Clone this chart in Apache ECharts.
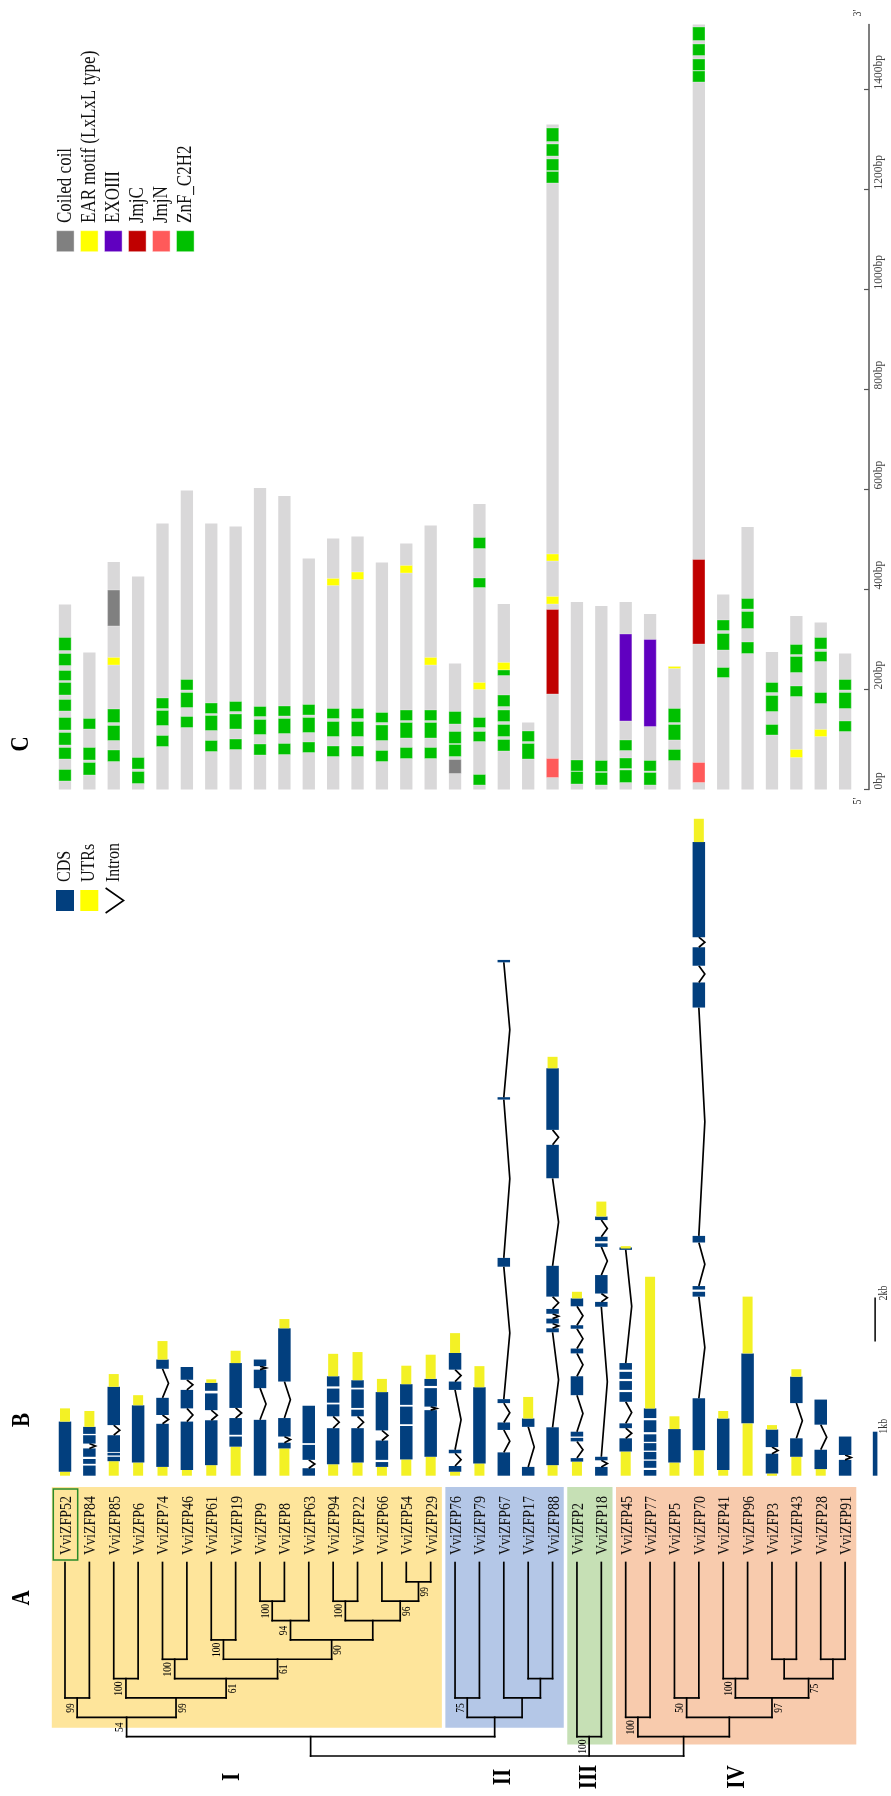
<!DOCTYPE html>
<html>
<head>
<meta charset="utf-8">
<title>VviZFP phylogeny, gene structures and protein domains</title>
<script src="https://cdn.jsdelivr.net/npm/echarts@6/dist/echarts.min.js"></script>
<style>
  html, body { margin: 0; padding: 0; background: #fff; }
  #chart { width: 891px; height: 1796px; }
</style>
</head>
<body>
<div id="chart"></div>
<script>
// ---------------------------------------------------------------------------
// Data
// ---------------------------------------------------------------------------

// Genes in tree order (left to right)
const genes = ['VviZFP52','VviZFP84','VviZFP85','VviZFP6','VviZFP74','VviZFP46','VviZFP61','VviZFP19',
  'VviZFP9','VviZFP8','VviZFP63','VviZFP94','VviZFP22','VviZFP66','VviZFP54','VviZFP29',
  'VviZFP76','VviZFP79','VviZFP67','VviZFP17','VviZFP88',
  'VviZFP2','VviZFP18',
  'VviZFP45','VviZFP77','VviZFP5','VviZFP70','VviZFP41','VviZFP96','VviZFP3','VviZFP43','VviZFP28','VviZFP91'];

// Clades: [label, first gene index, last gene index]
const clades = [['I', 0, 15], ['II', 16, 20], ['III', 21, 22], ['IV', 23, 32]];
const highlightedGene = 'VviZFP52';

// Internal tree nodes: [id, children, depth level, bootstrap, side of the bootstrap label]
const treeNodes = [
  ['n1',  ['VviZFP52', 'VviZFP84'], 7, 99, -1],
  ['n2',  ['VviZFP85', 'VviZFP6'], 6, 100, -1],
  ['n3',  ['VviZFP74', 'VviZFP46'], 5, 100, -1],
  ['n4',  ['VviZFP61', 'VviZFP19'], 4, 100, -1],
  ['n5',  ['VviZFP9', 'VviZFP8'], 2, 100, -1],
  ['n6',  ['n5', 'VviZFP63'], 3, 94, -1],
  ['n7',  ['VviZFP94', 'VviZFP22'], 2, 100, -1],
  ['n8',  ['VviZFP54', 'VviZFP29'], 1, 99, 1],
  ['n9',  ['VviZFP66', 'n8'], 2, 96, 1],
  ['n10', ['n7', 'n9'], 3, null, 0],
  ['n11', ['n6', 'n10'], 4, 90, 1],
  ['n12', ['n4', 'n11'], 5, 61, 1],
  ['n13', ['n3', 'n12'], 6, 61, 1],
  ['n14', ['n2', 'n13'], 7, 99, 1],
  ['n15', ['n1', 'n14'], 8, 54, -1],
  ['m1',  ['VviZFP76', 'VviZFP79'], 7, 75, -1],
  ['m2',  ['VviZFP17', 'VviZFP88'], 6, null, 0],
  ['m3',  ['VviZFP67', 'm2'], 7, null, 0],
  ['m4',  ['m1', 'm3'], 8, null, 0],
  ['c12', ['n15', 'm4'], 9, null, 0],
  ['c3',  ['VviZFP2', 'VviZFP18'], 9, 100, -1],
  ['k1',  ['VviZFP45', 'VviZFP77'], 8, 100, -1],
  ['k2',  ['VviZFP5', 'VviZFP70'], 7, 50, -1],
  ['k3',  ['VviZFP41', 'VviZFP96'], 6, 100, -1],
  ['k4',  ['VviZFP3', 'VviZFP43'], 5, null, 0],
  ['k5',  ['VviZFP28', 'VviZFP91'], 5, null, 0],
  ['k6',  ['k4', 'k5'], 6, 75, 1],
  ['k7',  ['k3', 'k6'], 7, 97, 1],
  ['k8',  ['k2', 'k7'], 8, null, 0],
  ['c4',  ['k1', 'k8'], 9, null, 0],
  ['root', ['c12', 'c3', 'c4'], 10, null, 0]
];

// Gene models, 5' -> 3': feature type (U = UTR, C = CDS, I = intron) followed by its length in kb
const geneModels = [
  ['U',0.09,'C',1.14,'U',0.30],
  ['C',0.23,'I',0.04,'C',0.11,'I',0.05,'C',0.19,'I',0.11,'C',0.19,'I',0.03,'C',0.16,'U',0.36],
  ['U',0.33,'C',0.10,'I',0.03,'C',0.06,'I',0.02,'C',0.38,'I',0.23,'C',0.87,'U',0.29],
  ['U',0.30,'C',1.30,'U',0.23],
  ['U',0.20,'C',0.98,'I',0.20,'C',0.39,'I',0.66,'C',0.21,'U',0.42],
  ['U',0.13,'C',1.10,'I',0.30,'C',0.42,'I',0.23,'C',0.29],
  ['U',0.24,'C',1.02,'I',0.23,'C',0.38,'I',0.06,'C',0.18,'U',0.08],
  ['U',0.66,'C',0.23,'I',0.04,'C',0.38,'I',0.23,'C',1.02,'U',0.28],
  ['C',1.27,'I',0.72,'C',0.42,'I',0.08,'C',0.15],
  ['U',0.62,'C',0.13,'I',0.14,'C',0.42,'I',0.83,'C',1.21,'U',0.21],
  ['C',0.17,'I',0.19,'C',0.34,'I',0.04,'C',0.85],
  ['U',0.26,'C',0.82,'I',0.27,'C',0.27,'I',0.04,'C',0.32,'I',0.05,'C',0.23,'U',0.51],
  ['U',0.30,'C',0.78,'I',0.27,'C',0.15,'I',0.04,'C',0.42,'I',0.04,'C',0.17,'U',0.64],
  ['U',0.20,'C',0.11,'I',0.05,'C',0.44,'I',0.23,'C',0.87,'U',0.30],
  ['U',0.37,'C',0.76,'I',0.04,'C',0.40,'I',0.04,'C',0.47,'U',0.42],
  ['U',0.43,'C',1.06,'I',0.08,'C',0.42,'I',0.05,'C',0.16,'U',0.55],
  ['U',0.09,'C',0.13,'I',0.29,'C',0.08,'I',1.36,'C',0.19,'I',0.27,'C',0.38,'U',0.45],
  ['U',0.28,'C',1.73,'U',0.48],
  ['C',0.53,'I',0.51,'C',0.17,'I',0.44,'C',0.09,'I',3.01,'C',0.20,'I',3.60,'C',0.05,'I',3.07,'C',0.05],
  ['C',0.20,'I',0.91,'C',0.19,'U',0.49],
  ['U',0.24,'C',0.86,'I',2.16,'C',0.09,'I',0.11,'C',0.11,'I',0.11,'C',0.11,'I',0.28,'C',0.70,'I',1.99,'C',0.76,'I',0.34,'C',1.40,'U',0.26],
  ['U',0.32,'C',0.08,'I',0.38,'C',0.08,'I',0.03,'C',0.11,'I',0.83,'C',0.43,'I',0.52,'C',0.11,'I',0.45,'C',0.08,'I',0.43,'C',0.18,'U',0.15],
  ['C',0.20,'I',0.15,'C',0.08,'I',3.41,'C',0.11,'I',0.19,'C',0.42,'I',0.64,'C',0.08,'I',0.05,'C',0.10,'I',0.38,'C',0.08,'U',0.34],
  ['U',0.55,'C',0.30,'I',0.23,'C',0.11,'I',0.49,'C',0.22,'I',0.05,'C',0.20,'I',0.05,'C',0.16,'I',0.05,'C',0.15,'I',2.58,'C',0.04,'U',0.02],
  ['C',0.13,'I',0.05,'C',0.16,'I',0.03,'C',0.17,'I',0.03,'C',0.17,'I',0.03,'C',0.17,'I',0.05,'C',0.27,'I',0.05,'C',0.22,'U',2.99],
  ['U',0.30,'C',0.76,'U',0.29],
  ['U',0.58,'C',1.18,'I',2.31,'C',0.11,'I',0.05,'C',0.08,'I',0.99,'C',0.15,'I',5.19,'C',0.57,'I',0.38,'C',0.42,'I',0.23,'C',2.16,'U',0.53],
  ['U',0.13,'C',1.17,'U',0.17],
  ['U',1.19,'C',1.59,'U',1.29],
  ['U',0.05,'C',0.45,'I',0.15,'C',0.40,'U',0.10],
  ['U',0.43,'C',0.42,'I',0.80,'C',0.60,'U',0.17],
  ['U',0.15,'C',0.44,'I',0.57,'C',0.57],
  ['C',0.36,'I',0.11,'C',0.42]
];

// Scale bars for the gene models: [label, length in kb]
const scaleBars = [['1kb', 1], ['2kb', 2]];

// Protein lengths, in the order of `genes`
const proteinLength = [370, 274, 455, 426, 532, 598, 532, 526, 603, 587, 462, 502, 506, 454, 492, 528,
  252, 571, 371, 134, 1330, 375, 367, 375, 351, 246, 1530, 390, 525, 275, 347, 334, 272];

// Domain positions: [gene, start, end]
const coiledCoil = [['VviZFP85', 327, 399], ['VviZFP76', 32, 60]];
const earMotif = [['VviZFP85', 249, 264], ['VviZFP94', 408, 422], ['VviZFP22', 420, 435], ['VviZFP54', 433, 448],
  ['VviZFP29', 249, 264], ['VviZFP79', 200, 214], ['VviZFP67', 239, 254], ['VviZFP88', 457, 471],
  ['VviZFP88', 371, 386], ['VviZFP5', 242, 246], ['VviZFP43', 64, 80], ['VviZFP28', 106, 120]];
const exoIII = [['VviZFP45', 137, 311], ['VviZFP77', 126, 300]];
const jmjC = [['VviZFP88', 191, 360], ['VviZFP70', 291, 460]];
const jmjN = [['VviZFP88', 24, 62], ['VviZFP70', 14, 54]];
const znfC2H2 = [
  ['VviZFP52',278,304],['VviZFP52',248,272],['VviZFP52',218,238],['VviZFP52',189,214],['VviZFP52',157,180],
  ['VviZFP52',119,144],['VviZFP52',89,114],['VviZFP52',61,84],['VviZFP52',17,40],
  ['VviZFP84',121,142],['VviZFP84',59,84],['VviZFP84',29,54],
  ['VviZFP85',134,161],['VviZFP85',98,128],['VviZFP85',56,79],
  ['VviZFP6',41,64],['VviZFP6',12,36],
  ['VviZFP74',162,183],['VviZFP74',128,158],['VviZFP74',86,108],
  ['VviZFP46',199,220],['VviZFP46',164,194],['VviZFP46',124,146],
  ['VviZFP61',152,173],['VviZFP61',118,148],['VviZFP61',76,98],
  ['VviZFP19',156,176],['VviZFP19',121,151],['VviZFP19',80,101],
  ['VviZFP9',146,166],['VviZFP9',110,140],['VviZFP9',69,91],
  ['VviZFP8',147,167],['VviZFP8',112,142],['VviZFP8',70,92],
  ['VviZFP63',149,170],['VviZFP63',114,144],['VviZFP63',74,95],
  ['VviZFP94',142,162],['VviZFP94',106,136],['VviZFP94',66,87],
  ['VviZFP22',142,162],['VviZFP22',106,136],['VviZFP22',66,87],
  ['VviZFP66',134,154],['VviZFP66',98,129],['VviZFP66',56,78],
  ['VviZFP54',138,159],['VviZFP54',103,134],['VviZFP54',62,84],
  ['VviZFP29',138,159],['VviZFP29',103,134],['VviZFP29',62,84],
  ['VviZFP76',131,156],['VviZFP76',92,116],['VviZFP76',66,90],
  ['VviZFP79',482,504],['VviZFP79',404,423],['VviZFP79',124,144],['VviZFP79',96,116],['VviZFP79',9,30],
  ['VviZFP67',228,239],['VviZFP67',166,189],['VviZFP67',136,159],['VviZFP67',106,130],['VviZFP67',77,100],
  ['VviZFP17',96,117],['VviZFP17',61,92],
  ['VviZFP88',1296,1323],['VviZFP88',1267,1291],['VviZFP88',1238,1261],['VviZFP88',1213,1236],
  ['VviZFP2',37,59],['VviZFP2',11,36],
  ['VviZFP18',36,58],['VviZFP18',9,34],
  ['VviZFP45',78,99],['VviZFP45',42,63],['VviZFP45',14,39],
  ['VviZFP77',37,58],['VviZFP77',9,34],
  ['VviZFP5',134,162],['VviZFP5',99,130],['VviZFP5',58,80],
  ['VviZFP70',1498,1525],['VviZFP70',1468,1491],['VviZFP70',1438,1461],['VviZFP70',1415,1437],
  ['VviZFP41',318,339],['VviZFP41',279,312],['VviZFP41',224,244],
  ['VviZFP96',361,382],['VviZFP96',322,356],['VviZFP96',272,295],
  ['VviZFP3',194,214],['VviZFP3',156,188],['VviZFP3',109,130],
  ['VviZFP43',270,290],['VviZFP43',234,266],['VviZFP43',186,207],
  ['VviZFP28',281,304],['VviZFP28',256,276],['VviZFP28',172,194],
  ['VviZFP91',199,220],['VviZFP91',162,194],['VviZFP91',116,137]
];

// Protein axis
const bpMax = 1530;
const bpStep = 200;

// Legend entries
const structureLegend = ['CDS', 'UTRs', 'Intron'];
const domainLegend = ['Coiled coil', 'EAR motif (LxLxL type)', 'EXOIII', 'JmjC', 'JmjN', 'ZnF_C2H2'];

// ---------------------------------------------------------------------------
// Styling
// ---------------------------------------------------------------------------
const SERIF = '"Liberation Serif", "Times New Roman", serif';
const SY = 1.22;                 // glyph stretch across the reading direction
const UP = Math.PI / 2;          // text reads bottom-to-top
const CDS_COLOR = '#023f7e';
const UTR_COLOR = '#f3f125';
const BACKBONE = '#d9d8d9';
const domainColors = ['#808080', '#ffff00', '#6000c0', '#c00000', '#ff5a5a', '#00c000'];
const cladeColors = ['#fee59b', '#b4c7e7', '#c6e0b5', '#f8cbad'];
const cladeBoxBottom = [8.54, 8.54, 9.4, 9.4];
const cladeBoxTop = -3.9;
const cladeLabelNudge = [-15, 0, 0, 2];

function vText(x, y, text, font, align, color) {
  return {
    type: 'text', x: x, y: y, rotation: UP, scaleY: SY, silent: true,
    style: { text: text, font: font, fill: color || '#000', align: align || 'left', verticalAlign: 'middle',
             textAlign: align || 'left', textVerticalAlign: 'middle' }
  };
}

// ---------------------------------------------------------------------------
// Derived series data
// ---------------------------------------------------------------------------
const geneIndex = {};
genes.forEach((g, i) => { geneIndex[g] = i; });

// Tree: node positions and line segments [x1, level1, x2, level2]
const nodePos = {};
genes.forEach((g, i) => { nodePos[g] = [i, 0]; });
const treeSegments = [];
const bootstrapData = [];
treeNodes.forEach(([id, kids, level, boot, side]) => {
  const xs = kids.map(k => nodePos[k][0]);
  kids.forEach(k => {
    const p = nodePos[k];
    treeSegments.push([p[0], p[1], p[0], level]);
  });
  treeSegments.push([Math.min(...xs), level, Math.max(...xs), level]);
  const x = (Math.min(...xs) + Math.max(...xs)) / 2;
  nodePos[id] = [x, level];
  if (boot !== null) bootstrapData.push([x, level, boot, side]);
});

// Gene model features [gene, start, end, type]
const modelData = [];
geneModels.forEach((m, gi) => {
  let pos = 0;
  for (let k = 0; k < m.length; k += 2) {
    const t = m[k];
    modelData.push([gi, pos, pos + m[k + 1], t === 'U' ? 0 : (t === 'C' ? 1 : 2)]);
    pos += m[k + 1];
  }
});

// Protein backbones and domains
const backboneData = proteinLength.map((len, i) => [i, 0, len]);
const domainData = [];
[coiledCoil, earMotif, exoIII, jmjC, jmjN, znfC2H2].forEach((list, t) => {
  list.forEach(([g, s, e]) => domainData.push([geneIndex[g], s, e, t]));
});

// ---------------------------------------------------------------------------
// Chart
// ---------------------------------------------------------------------------
const chart = echarts.init(document.getElementById('chart'), null, { renderer: 'canvas' });

const BAND = 804.5 / 33;               // horizontal room per gene
const hidden = { show: false, axisLine: { show: false }, axisTick: { show: false },
                 axisLabel: { show: false }, splitLine: { show: false }, splitArea: { show: false } };
function xAxisFor(grid, max) {
  return Object.assign({ gridIndex: grid, type: 'value', min: -0.5, max: max }, hidden);
}
function gridAt(top, height, width) {
  return { left: 52.8, top: top, height: height, width: width, containLabel: false, outerBoundsMode: 'none' };
}

const option = {
  animation: false,
  backgroundColor: '#ffffff',
  grid: [
    gridAt(24.5, 765, 816.2),     // C: protein domains (right edge carries the bp axis)
    gridAt(771.7, 704, 804.5),    // B: gene models
    gridAt(1485.1, 270.9, 804.5)  // A: tree
  ],
  xAxis: [
    xAxisFor(0, -0.5 + 816.2 / BAND),
    xAxisFor(1, 32.5),
    xAxisFor(2, 32.5)
  ],
  yAxis: [
    {
      gridIndex: 0, type: 'value', min: 0, max: bpMax, interval: bpStep, position: 'right',
      axisLine: { show: true, onZero: false, lineStyle: { color: '#555', width: 1.5 } },
      axisTick: { show: true, inside: true, length: 5, lineStyle: { color: '#555', width: 1.2 } },
      splitLine: { show: false }, splitArea: { show: false }, minorTick: { show: false },
      axisLabel: {
        show: true, rotate: 90, margin: 4, align: 'left', verticalAlign: 'top',
        fontFamily: SERIF, fontSize: 11.5, color: '#444',
        showMaxLabel: false, formatter: v => v + 'bp'
      }
    },
    Object.assign({ gridIndex: 1, type: 'value', min: 0, max: 16 }, hidden),
    Object.assign({ gridIndex: 1, type: 'value', min: 0, max: 32 }, hidden),
    Object.assign({ gridIndex: 2, type: 'value', min: cladeBoxTop - 0.1, max: 10, inverse: true }, hidden)
  ],
  series: [
    // ---- C: protein backbones
    {
      type: 'custom', xAxisIndex: 0, yAxisIndex: 0, silent: true, z: 2,
      data: backboneData,
      renderItem: (params, api) => {
        const a = api.coord([api.value(0), api.value(1)]);
        const b = api.coord([api.value(0), api.value(2)]);
        return { type: 'rect', shape: { x: a[0] - 6.15, y: b[1], width: 12.3, height: a[1] - b[1] },
                 style: { fill: BACKBONE } };
      }
    },
    // ---- C: domains
    {
      type: 'custom', xAxisIndex: 0, yAxisIndex: 0, silent: true, z: 3,
      data: domainData,
      renderItem: (params, api) => {
        const a = api.coord([api.value(0), api.value(1)]);
        const b = api.coord([api.value(0), api.value(2)]);
        return { type: 'rect', shape: { x: a[0] - 6.15, y: b[1], width: 12.3, height: a[1] - b[1] },
                 style: { fill: domainColors[api.value(3)], stroke: 'rgba(255,255,255,0.45)', lineWidth: 0.7 } };
      }
    },
    // ---- B: gene models
    {
      type: 'custom', xAxisIndex: 1, yAxisIndex: 1, silent: true, z: 3,
      data: modelData,
      renderItem: (params, api) => {
        const a = api.coord([api.value(0), api.value(1)]);
        const b = api.coord([api.value(0), api.value(2)]);
        const t = api.value(3);
        const x = a[0];
        if (t === 2) {
          if (a[1] - b[1] < 3) return { type: 'group', children: [] };
          const ym = (a[1] + b[1]) / 2;
          return { type: 'polyline', shape: { points: [[x, a[1]], [x + 6, ym], [x, b[1]]] },
                   style: { stroke: '#000', lineWidth: 1.7, fill: null } };
        }
        const w = t === 1 ? 12.5 : 10;
        let top = b[1], h = a[1] - b[1];
        if (h < 2.4) { top -= (2.4 - h) / 2; h = 2.4; }
        return { type: 'rect', shape: { x: x - w / 2, y: top, width: w, height: h },
                 style: { fill: t === 1 ? CDS_COLOR : UTR_COLOR } };
      }
    },
    // ---- B: scale bars (1 kb on the model axis, 2 kb on the half-scale axis)
    {
      type: 'custom', xAxisIndex: 1, yAxisIndex: 1, silent: true, z: 3,
      data: [[32, 0, scaleBars[0][1]]],
      renderItem: (params, api) => {
        const a = api.coord([api.value(0), api.value(1)]);
        const b = api.coord([api.value(0), api.value(2)]);
        const x = a[0] + 30;
        return { type: 'group', children: [
          { type: 'rect', shape: { x: x - 2.3, y: b[1], width: 4.6, height: a[1] - b[1] }, style: { fill: CDS_COLOR } },
          vText(x + 8.5, b[1] + 2, scaleBars[0][0], '10px ' + SERIF, 'left', '#333')
        ] };
      }
    },
    {
      type: 'custom', xAxisIndex: 1, yAxisIndex: 2, silent: true, z: 3,
      data: [[32, 6.1, 6.1 + scaleBars[1][1]]],
      renderItem: (params, api) => {
        const a = api.coord([api.value(0), api.value(1)]);
        const b = api.coord([api.value(0), api.value(2)]);
        const x = a[0] + 30;
        return { type: 'group', children: [
          { type: 'line', shape: { x1: x, y1: a[1], x2: x, y2: b[1] }, style: { stroke: '#000', lineWidth: 1.5 } },
          vText(x + 8.5, b[1] + 3, scaleBars[1][0], '10px ' + SERIF, 'left', '#333')
        ] };
      }
    },
    // ---- A: clade boxes
    {
      type: 'custom', xAxisIndex: 2, yAxisIndex: 3, silent: true, z: 1,
      data: clades.map((c, i) => [c[1], c[2], i]),
      renderItem: (params, api) => {
        const i = api.value(2);
        const band = api.size([1, 0])[0];
        const a = api.coord([api.value(0), cladeBoxTop]);
        const b = api.coord([api.value(1), cladeBoxBottom[i]]);
        const x0 = a[0] - band / 2 + (i === 0 ? -1 : 2.5);
        const x1 = b[0] + band / 2 - 1;
        return { type: 'rect', shape: { x: x0, y: a[1], width: x1 - x0, height: b[1] - a[1] },
                 style: { fill: cladeColors[i] } };
      }
    },
    // ---- A: tree branches
    {
      type: 'custom', xAxisIndex: 2, yAxisIndex: 3, silent: true, z: 4,
      data: treeSegments,
      renderItem: (params, api) => {
        const a = api.coord([api.value(0), api.value(1)]);
        const b = api.coord([api.value(2), api.value(3)]);
        return { type: 'line', shape: { x1: a[0], y1: a[1], x2: b[0], y2: b[1] },
                 style: { stroke: '#000', lineWidth: 1.7, lineCap: 'square' } };
      }
    },
    // ---- A: bootstrap values
    {
      type: 'custom', xAxisIndex: 2, yAxisIndex: 3, silent: true, z: 5,
      data: bootstrapData,
      renderItem: (params, api) => {
        const p = api.coord([api.value(0), api.value(1)]);
        return vText(p[0] + api.value(3) * 6.5, p[1] + 10, String(api.value(2)), '9.5px ' + SERIF, 'center');
      }
    },
    // ---- A: gene names (and highlight box)
    {
      type: 'custom', xAxisIndex: 2, yAxisIndex: 3, silent: true, z: 5,
      data: genes.map((g, i) => [i, 0]),
      renderItem: (params, api) => {
        const i = api.value(0);
        const p = api.coord([i, 0]);
        const label = vText(p[0] + 1.5, p[1] - 7.5, genes[i], '14px ' + SERIF, 'left', '#111');
        if (genes[i] !== highlightedGene) return label;
        return { type: 'group', children: [
          label,
          { type: 'rect', shape: { x: p[0] - 11.7, y: p[1] - 73.5, width: 24.4, height: 71 },
            style: { fill: null, stroke: '#2a8a2a', lineWidth: 1.5 } }
        ] };
      }
    },
    // ---- A: clade labels
    {
      type: 'custom', xAxisIndex: 2, yAxisIndex: 3, silent: true, z: 5,
      data: clades.map((c, i) => [(c[1] + c[2]) / 2, 10, i]),
      renderItem: (params, api) => {
        const i = api.value(2);
        const p = api.coord([api.value(0), api.value(1)]);
        return vText(p[0] + cladeLabelNudge[i], p[1] + 21, clades[i][0], 'bold 21px ' + SERIF, 'center');
      }
    }
  ],
  graphic: { elements: [] }
};

// Panel letters, strand ends, legends
const g = option.graphic.elements;
g.push(vText(22.5, 1598, 'A', 'bold 21px ' + SERIF, 'center'));
g.push(vText(22.5, 1420, 'B', 'bold 21px ' + SERIF, 'center'));
g.push(vText(21, 744, 'C', 'bold 21px ' + SERIF, 'center'));
g.push(vText(858, 801, "5'", '10px ' + SERIF, 'center', '#333'));
g.push(vText(858, 13, "3'", '10px ' + SERIF, 'center', '#333'));

structureLegend.forEach((name, i) => {
  const cx = 65 + 24.3 * i;
  if (i < 2) {
    g.push({ type: 'rect', silent: true, shape: { x: cx - 9, y: 890, width: 18, height: 21 },
             style: { fill: i === 0 ? CDS_COLOR : '#ffff00' } });
  } else {
    g.push({ type: 'polyline', silent: true, shape: { points: [[cx - 8, 888], [cx + 10, 900.5], [cx - 8, 913]] },
             style: { stroke: '#000', lineWidth: 1.6, fill: null } });
  }
  g.push(vText(cx, 882, name, '16px ' + SERIF, 'left', '#111'));
});

domainLegend.forEach((name, i) => {
  const cx = 65.3 + 24 * i;
  g.push({ type: 'rect', silent: true, shape: { x: cx - 8.8, y: 230.7, width: 17.6, height: 21 },
           style: { fill: domainColors[i], stroke: 'rgba(255,255,255,0.6)', lineWidth: 0.7 } });
  g.push(vText(cx, 223, name, '17px ' + SERIF, 'left', '#111'));
});

chart.setOption(option);
</script>
</body>
</html>
